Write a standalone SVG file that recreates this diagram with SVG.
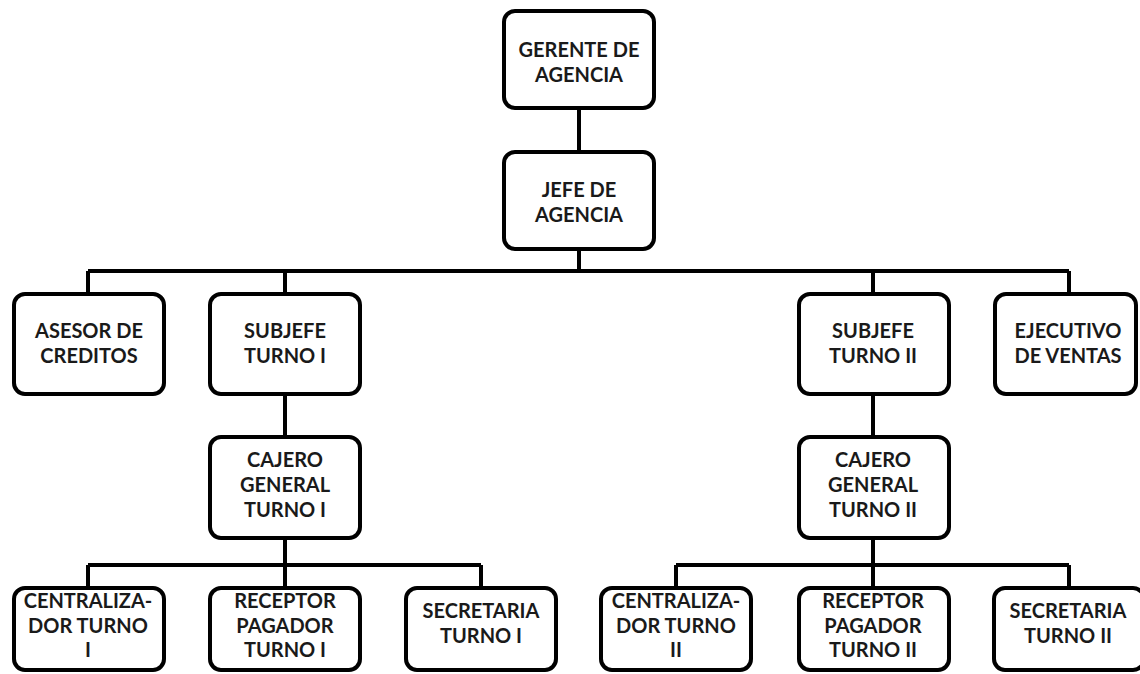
<svg xmlns="http://www.w3.org/2000/svg" width="1140" height="674" viewBox="0 0 1140 674">
<style>
.box{fill:#fff;stroke:#000;stroke-width:4}
.t{font-family:Lato,"Liberation Sans",sans-serif;font-weight:bold;font-size:20px;fill:#1a1a1a;text-anchor:middle}
.c{fill:none;stroke:#000;stroke-width:4;stroke-linejoin:miter}
</style>
<rect width="1140" height="674" fill="#fff"/>
<g id="connectors">
<path class="c" d="M579 110V152M579 251V271M88 271H1069M88 271V294M285 271V294M873 271V294M1069 271V294"/>
<path class="c" d="M285 394V437M873 394V437"/>
<path class="c" d="M285 540V565M88 565H481M88 565V588M285 565V588M481 565V588"/>
<path class="c" d="M873 540V565M676 565H1069M676 565V588M873 565V588M1069 565V588"/>
</g>
<g id="gerente"><rect class="box" x="504" y="11" width="150" height="97" rx="11"/><text class="t" x="579" y="56.5">GERENTE DE</text><text class="t" x="579" y="81.5">AGENCIA</text></g>
<g id="jefe"><rect class="box" x="504" y="152" width="150" height="97" rx="11"/><text class="t" x="579" y="197">JEFE DE</text><text class="t" x="579" y="222">AGENCIA</text></g>
<g id="asesor"><rect class="box" x="14" y="294" width="150" height="100" rx="11"/><text class="t" x="89" y="338">ASESOR DE</text><text class="t" x="89" y="363">CREDITOS</text></g>
<g id="subjefe1"><rect class="box" x="210" y="294" width="150" height="100" rx="11"/><text class="t" x="285" y="338">SUBJEFE</text><text class="t" x="285" y="363">TURNO I</text></g>
<g id="subjefe2"><rect class="box" x="799" y="294" width="150" height="100" rx="11"/><text class="t" x="873" y="338">SUBJEFE</text><text class="t" x="873" y="363">TURNO II</text></g>
<g id="ejecutivo"><rect class="box" x="995" y="294" width="141" height="100" rx="11"/><text class="t" x="1068" y="338">EJECUTIVO</text><text class="t" x="1068" y="363">DE VENTAS</text></g>
<g id="cajero1"><rect class="box" x="210" y="437" width="150" height="101" rx="11"/><text class="t" x="285" y="467">CAJERO</text><text class="t" x="285" y="492">GENERAL</text><text class="t" x="285" y="517">TURNO I</text></g>
<g id="cajero2"><rect class="box" x="799" y="437" width="150" height="101" rx="11"/><text class="t" x="873" y="467">CAJERO</text><text class="t" x="873" y="492">GENERAL</text><text class="t" x="873" y="517">TURNO II</text></g>
<g id="centralizador1"><rect class="box" x="14" y="588" width="150" height="82" rx="11"/><text class="t" x="88" y="608">CENTRALIZA-</text><text class="t" x="88" y="633">DOR TURNO</text><text class="t" x="88" y="657">I</text></g>
<g id="receptor1"><rect class="box" x="210" y="588" width="150" height="82" rx="11"/><text class="t" x="285" y="608">RECEPTOR</text><text class="t" x="285" y="633">PAGADOR</text><text class="t" x="285" y="657">TURNO I</text></g>
<g id="secretaria1"><rect class="box" x="406" y="588" width="150" height="82" rx="11"/><text class="t" x="481" y="618">SECRETARIA</text><text class="t" x="481" y="643">TURNO I</text></g>
<g id="centralizador2"><rect class="box" x="601" y="588" width="150" height="82" rx="11"/><text class="t" x="676" y="608">CENTRALIZA-</text><text class="t" x="676" y="633">DOR TURNO</text><text class="t" x="676" y="657">II</text></g>
<g id="receptor2"><rect class="box" x="799" y="588" width="150" height="82" rx="11"/><text class="t" x="873" y="608">RECEPTOR</text><text class="t" x="873" y="633">PAGADOR</text><text class="t" x="873" y="657">TURNO II</text></g>
<g id="secretaria2"><rect class="box" x="994" y="588" width="150" height="82" rx="11"/><text class="t" x="1068" y="618">SECRETARIA</text><text class="t" x="1068" y="643">TURNO II</text></g>
</svg>
